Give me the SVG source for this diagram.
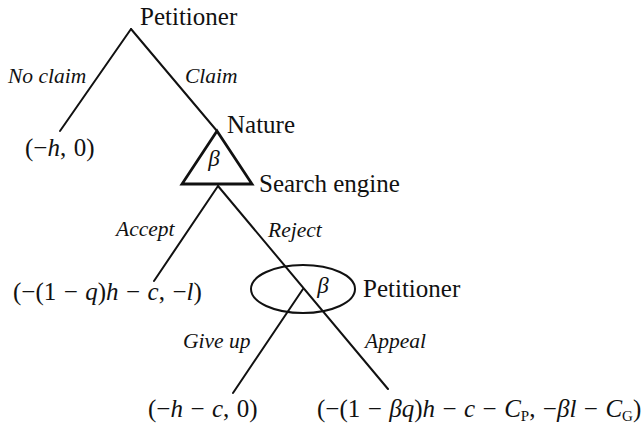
<svg xmlns="http://www.w3.org/2000/svg" width="642" height="430" viewBox="0 0 642 430">
<rect width="642" height="430" fill="#fff"/>
<g id="connectors" stroke="#111" stroke-width="2" fill="none" stroke-linecap="round">
<line x1="131" y1="29" x2="60" y2="131"/>
<line x1="131" y1="29" x2="217" y2="131"/>
<line x1="218" y1="186" x2="154" y2="281"/>
<line x1="218" y1="186" x2="388" y2="389"/>
<line x1="303" y1="289" x2="233" y2="393"/>
</g>
<g id="edge-labels">
<text font-family="Liberation Serif" font-style="italic" font-size="21.5" fill="#111" x="8" y="83">No claim</text>
<text font-family="Liberation Serif" font-style="italic" font-size="21.5" fill="#111" x="185" y="83">Claim</text>
<text font-family="Liberation Serif" font-style="italic" font-size="21.5" fill="#111" x="116" y="236">Accept</text>
<text font-family="Liberation Serif" font-style="italic" font-size="21.5" fill="#111" x="268" y="237">Reject</text>
<text font-family="Liberation Serif" font-style="italic" font-size="21.5" fill="#111" x="183" y="348">Give up</text>
<text font-family="Liberation Serif" font-style="italic" font-size="21.5" fill="#111" x="365" y="348">Appeal</text>
</g>
<g id="node-petitioner-root">
<text font-family="Liberation Serif" font-size="25" fill="#111" x="140" y="25">Petitioner</text>
</g>
<g id="node-no-claim-payoff">
<text font-family="Liberation Serif" font-size="25" fill="#111" x="25" y="156" word-spacing="1.2">(&#8722;<tspan font-style="italic">h</tspan>, 0)</text>
</g>
<g id="node-nature">
<polygon stroke="#111" fill="none" stroke-width="2.8" points="217,131 182,184 252,184"/>
<text font-family="Liberation Serif" font-style="italic" font-size="23" fill="#111" x="214" y="166" text-anchor="middle">&#946;</text>
<text font-family="Liberation Serif" font-size="25" fill="#111" x="227" y="133">Nature</text>
<text font-family="Liberation Serif" font-size="25" fill="#111" x="259" y="192">Search engine</text>
</g>
<g id="node-accept-payoff">
<text font-family="Liberation Serif" font-size="25" fill="#111" x="13" y="300" word-spacing="1.2">(&#8722;(1 &#8722; <tspan font-style="italic">q</tspan>)<tspan font-style="italic">h</tspan> &#8722; <tspan font-style="italic">c</tspan>, &#8722;<tspan font-style="italic">l</tspan>)</text>
</g>
<g id="node-petitioner-info">
<ellipse stroke="#111" fill="none" stroke-width="2" cx="303" cy="289" rx="52" ry="24"/>
<text font-family="Liberation Serif" font-style="italic" font-size="23" fill="#111" x="323" y="293" text-anchor="middle">&#946;</text>
<text font-family="Liberation Serif" font-size="25" fill="#111" x="363" y="297">Petitioner</text>
</g>
<g id="node-giveup-payoff">
<text font-family="Liberation Serif" font-size="25" fill="#111" x="148" y="417" word-spacing="1.2">(&#8722;<tspan font-style="italic">h</tspan> &#8722; <tspan font-style="italic">c</tspan>, 0)</text>
</g>
<g id="node-appeal-payoff">
<text font-family="Liberation Serif" font-size="25" fill="#111" x="317" y="417" word-spacing="1.2">(&#8722;(1 &#8722; <tspan font-style="italic">&#946;q</tspan>)<tspan font-style="italic">h</tspan> &#8722; <tspan font-style="italic">c</tspan> &#8722; <tspan font-style="italic">C</tspan><tspan font-size="15" dy="4">P</tspan><tspan dy="-4">, &#8722;</tspan><tspan font-style="italic">&#946;l</tspan> &#8722; <tspan font-style="italic">C</tspan><tspan font-size="15" dy="4">G</tspan><tspan dy="-4">)</tspan></text>
</g>
</svg>
